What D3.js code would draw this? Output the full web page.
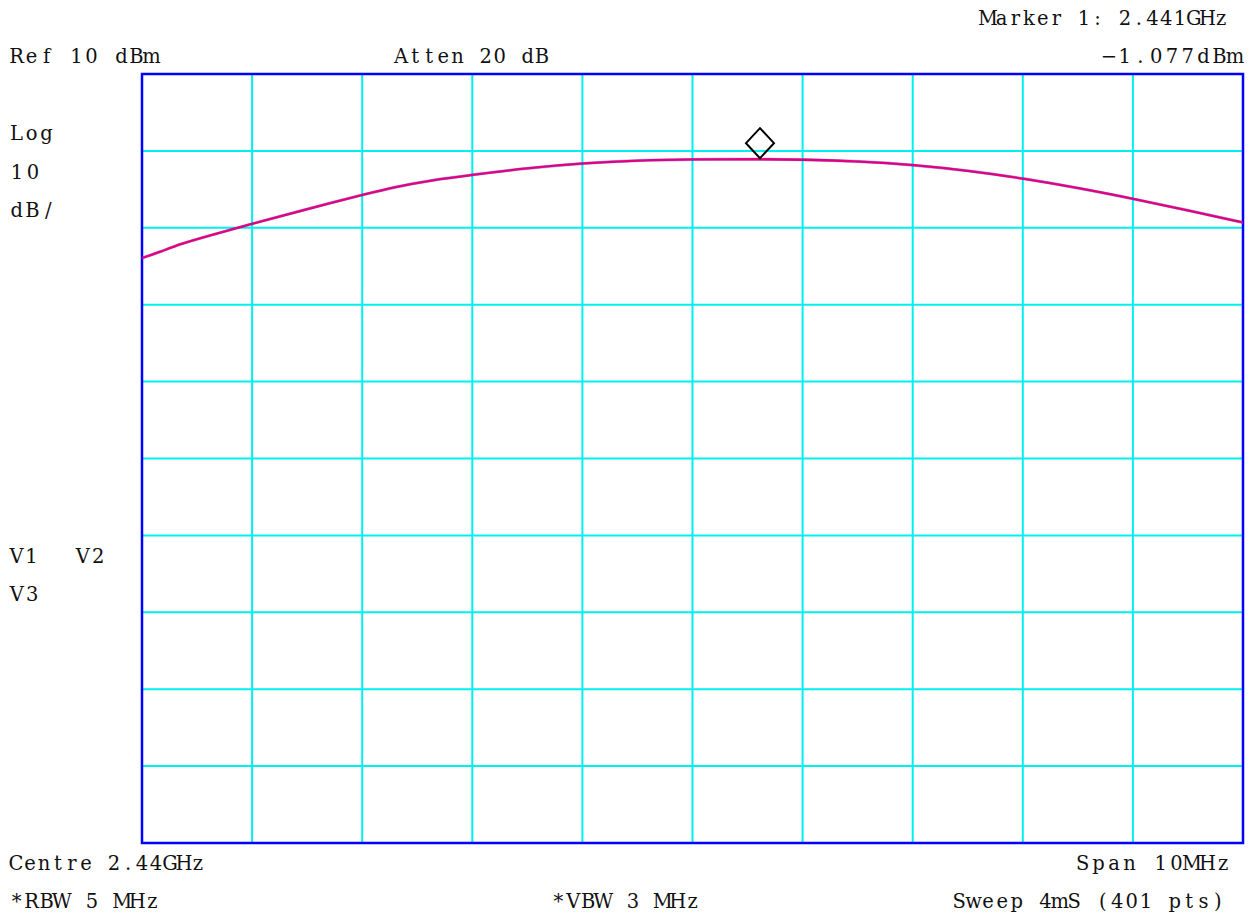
<!DOCTYPE html>
<html>
<head>
<meta charset="utf-8">
<script src="https://cdn.jsdelivr.net/npm/d3@7/dist/d3.min.js"></script>
<style>
  html, body { margin: 0; padding: 0; background: #fff; }
  svg { display: block; }
  text { font-family: "DejaVu Serif", "Liberation Serif", serif; font-size: 19.5px; fill: #111; }
</style>
</head>
<body>
<svg id="chart" width="1253" height="915"></svg>
<script>
// ---- data (frequency in MHz, level in dBm) ----
const freqMHz = [2435.000, 2435.163, 2435.345, 2435.618, 2436.008, 2436.435, 2436.708, 2436.998,
  2437.316, 2437.616, 2437.997, 2438.524, 2439.005, 2439.523, 2440.005, 2440.613, 2441.004,
  2441.521, 2442.003, 2442.520, 2443.011, 2443.519, 2444.028, 2444.519, 2445.000];
const levelDBm = [-13.93, -13.15, -12.11, -11.00, -9.44, -7.82, -6.78, -5.73,
  -4.63, -3.85, -3.11, -2.20, -1.60, -1.21, -1.09, -1.077, -1.12,
  -1.35, -1.81, -2.59, -3.59, -4.85, -6.29, -7.79, -9.31];
const markerFreq = 2440.613;
const markerLevel = -1.077;
const xDomain = [2435, 2445];
const yDomain = [-90, 10];
const xGridTicks = d3.range(2435, 2445.5, 1);
const yGridTicks = d3.range(-90, 10.5, 10);

// text annotations: [text, left x, right x, baseline y]
const labels = [
  ["Marker 1: 2.441GHz", 981, 1228, 25],
  ["Ref 10 dBm", 9, 159, 63],
  ["Atten 20 dB", 394, 549, 63],
  ["\u22121.077dBm", 1101, 1243, 63],
  ["Log", 9, 54, 140],
  ["10", 9, 41, 179],
  ["dB/", 9, 56, 217],
  ["V1", 9, 39, 563],
  ["V2", 75, 106, 563],
  ["V3", 9, 40, 601],
  ["Centre 2.44GHz", 9, 205, 870],
  ["Span 10MHz", 1075, 1231, 870],
  ["*RBW 5 MHz", 9, 160, 908],
  ["*VBW 3 MHz", 551, 700, 908],
  ["Sweep 4mS (401 pts)", 952, 1225, 908]
];

// ---- layout ----
const pL = 142, pR = 1243, pT = 74, pB = 843;
const svg = d3.select("#chart");
const x = d3.scaleLinear().domain(xDomain).range([pL, pR]);
const y = d3.scaleLinear().domain(yDomain).range([pB, pT]);

// grid
const g = svg.append("g");
g.selectAll("line.v").data(xGridTicks.slice(1, -1)).join("line")
  .attr("class", "v")
  .attr("x1", d => x(d)).attr("x2", d => x(d))
  .attr("y1", pT).attr("y2", pB)
  .attr("stroke", "#00f0f0").attr("stroke-width", 2);
g.selectAll("line.h").data(yGridTicks.slice(1, -1)).join("line")
  .attr("class", "h")
  .attr("y1", d => y(d)).attr("y2", d => y(d))
  .attr("x1", pL).attr("x2", pR)
  .attr("stroke", "#00f0f0").attr("stroke-width", 2);

// border
svg.append("rect").attr("x", pL).attr("y", pT)
  .attr("width", pR - pL).attr("height", pB - pT)
  .attr("fill", "none").attr("stroke", "#0000ff").attr("stroke-width", 2.5);

// trace
const pts = freqMHz.map((f, i) => [f, levelDBm[i]]);
const line = d3.line().x(d => x(d[0])).y(d => y(d[1])).curve(d3.curveBasis);
svg.append("path").attr("d", line(pts)).attr("fill", "none")
  .attr("stroke", "#3a2ae0").attr("stroke-width", 3).attr("stroke-opacity", 0.45);
svg.append("path").attr("d", line(pts)).attr("fill", "none")
  .attr("stroke", "#e2007c").attr("stroke-width", 2.3);

// marker diamond
const mx = x(markerFreq), my = y(markerLevel) - 16;
svg.append("path")
  .attr("d", `M${mx},${my - 15} L${mx + 14},${my} L${mx},${my + 15} L${mx - 14},${my} Z`)
  .attr("fill", "none").attr("stroke", "#000").attr("stroke-width", 2);

// text: fixed-pitch character cells, each glyph centred in its cell
svg.selectAll("text.lbl").data(labels).join("text")
  .attr("class", "lbl")
  .attr("y", d => d[3])
  .attr("text-anchor", "middle")
  .attr("x", d => {
    const chars = Array.from(d[0]);
    const pitch = (d[2] - d[1]) / chars.length;
    return chars.map((c, i) => (d[1] + pitch * (i + 0.5)).toFixed(2)).join(" ");
  })
  .text(d => d[0]);
</script>
</body>
</html>
